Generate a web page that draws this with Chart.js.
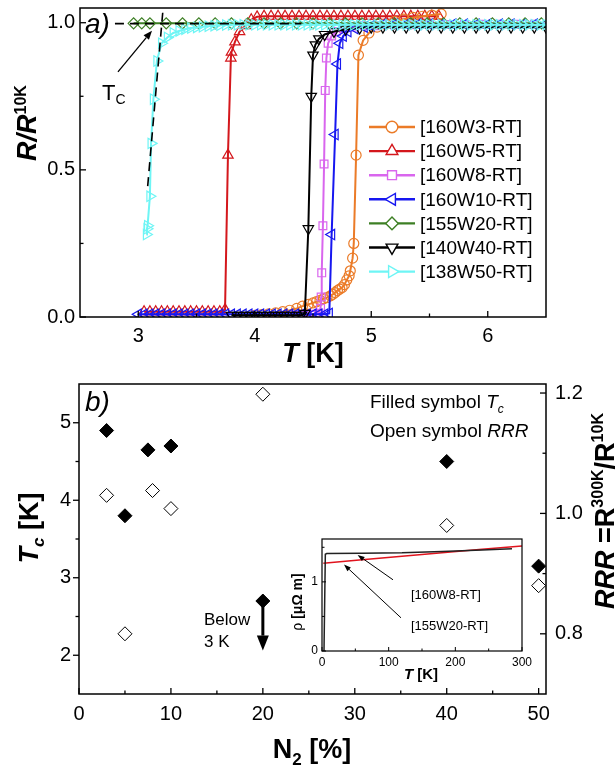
<!DOCTYPE html>
<html><head><meta charset="utf-8">
<script src="https://cdn.jsdelivr.net/npm/chart.js@4.4.1/dist/chart.umd.min.js"></script>
<style>
html,body{margin:0;padding:0;background:#fff;overflow:hidden}
#wrap{position:relative;width:616px;height:770px;background:#fff}
canvas{position:absolute;display:block}
</style></head><body>
<div id="wrap">
<canvas id="cTop" width="616" height="370" style="left:0;top:0"></canvas>
<canvas id="cBot" width="616" height="400" style="left:0;top:370px"></canvas>
<canvas id="cIn" width="250" height="160" style="left:282px;top:527px"></canvas>
</div>
<script>
const FONT = "'Liberation Sans', Arial, Helvetica, sans-serif";

// ---------- Panel a) data : T [K] and R/R10K ----------
const seriesNames = ['[160W3-RT]','[160W5-RT]','[160W8-RT]','[160W10-RT]','[155W20-RT]','[140W40-RT]','[138W50-RT]'];

const w3T = [4.00,4.06,4.12,4.18,4.24,4.30,4.36,4.41,4.46,4.50,
             4.53,4.56,4.59,4.62,4.65,4.67,4.69,4.71,4.73,4.75,
             4.77,4.79,4.81,4.82,4.84,4.85,4.87,4.89,4.93,4.98,
             5.05,5.12,5.20,5.28,5.36,5.44,5.52,5.60];
const w3R = [0.006,0.008,0.011,0.014,0.018,0.023,0.029,0.037,0.043,0.048,
             0.052,0.057,0.062,0.066,0.072,0.077,0.083,0.09,0.095,0.10,
             0.11,0.126,0.14,0.157,0.20,0.25,0.55,0.89,0.94,0.965,
             0.985,0.995,1.005,1.012,1.018,1.022,1.026,1.03];

const w5T = [3.05,3.10,3.15,3.20,3.25,3.30,3.35,3.40,3.45,3.50,
             3.55,3.60,3.65,3.70,3.745,3.77,3.795,3.80,3.83,3.87,
             3.92,3.97,4.02,4.08,4.14,4.20,4.26,4.32,4.38,4.44,
             4.50,4.56,4.62,4.68,4.74,4.80,4.86,4.92,4.98,5.04,
             5.10,5.16,5.22,5.28,5.34,5.40,5.46,5.52,5.58];
const w5R = [0.018,0.018,0.018,0.018,0.018,0.018,0.018,0.018,0.018,0.018,
             0.018,0.018,0.018,0.018,0.025,0.55,0.88,0.90,0.935,0.97,
             0.99,1.01,1.02,1.022,1.022,1.022,1.022,1.022,1.022,1.022,
             1.022,1.022,1.022,1.022,1.022,1.022,1.022,1.022,1.022,1.022,
             1.022,1.022,1.022,1.022,1.022,1.022,1.022,1.022,1.022];

const w8T = [4.35,4.42,4.48,4.52,4.55,4.565,4.57,4.575,4.585,4.595,
             4.605,4.615,4.63,4.66,4.70,4.76,4.84,4.94,5.05,5.2,
             5.35,5.5,5.65,5.8,5.95,6.1,6.25,6.4];
const w8R = [0.006,0.006,0.007,0.009,0.013,0.03,0.068,0.15,0.31,0.52,
             0.77,0.88,0.93,0.955,0.97,0.98,0.985,0.99,0.99,0.992,
             0.993,0.993,0.994,0.994,0.995,0.995,0.995,0.995];

const w10T = [3.00,3.05,3.10,3.15,3.20,3.25,3.30,3.35,3.40,3.45,
              3.50,3.55,3.60,3.65,3.70,3.75,3.80,3.85,3.90,3.95,
              4.00,4.05,4.10,4.15,4.20,4.25,4.30,4.35,4.40,4.45,
              4.50,4.55,4.60,4.64,4.66,4.69,4.71,4.73,4.76,4.80,
              4.86,4.94,5.00,5.10,5.20,5.30,5.40,5.50,5.60,5.70,
              5.80,5.90,6.00,6.10,6.20,6.30,6.40,6.50];
const w10R = [0.009,0.009,0.009,0.009,0.009,0.009,0.009,0.009,0.009,0.009,
              0.009,0.009,0.009,0.009,0.009,0.009,0.009,0.009,0.009,0.009,
              0.009,0.009,0.009,0.009,0.009,0.009,0.009,0.009,0.009,0.009,
              0.009,0.009,0.009,0.012,0.28,0.62,0.86,0.93,0.955,0.97,
              0.98,0.985,0.99,0.995,0.995,0.995,0.995,0.995,0.995,0.995,
              0.995,0.995,0.995,0.995,0.995,0.995,0.995,0.995];

const w20T = [2.96,3.03,3.10,3.24,3.38,3.52,3.66,3.80,3.94,4.08,
              4.22,4.36,4.50,4.64,4.78,4.92,5.06,5.20,5.34,5.48,
              5.62,5.76,5.90,6.04,6.18,6.32,6.46];
const w20R = [0.998,0.998,0.998,0.998,0.998,0.998,0.998,0.998,0.998,0.998,
              0.998,0.998,0.998,0.998,0.998,0.998,0.998,0.998,0.998,0.998,
              0.998,0.998,0.998,0.998,0.998,0.998,0.998];

const w40T = [3.80,3.85,3.90,3.95,4.00,4.05,4.10,4.15,4.20,4.25,
              4.30,4.35,4.40,4.43,4.46,4.485,4.50,4.52,4.55,4.60,
              4.68,4.78,4.90,5.00,5.10,5.20,5.30,5.40,5.50,5.60,
              5.70,5.80,5.90,6.00,6.10,6.20,6.30,6.40,6.50];
const w40R = [0.006,0.006,0.006,0.006,0.006,0.006,0.006,0.006,0.006,0.006,
              0.006,0.006,0.006,0.012,0.30,0.75,0.89,0.925,0.945,0.96,
              0.97,0.978,0.982,0.985,0.985,0.985,0.985,0.985,0.985,0.985,
              0.985,0.985,0.985,0.985,0.985,0.985,0.985,0.985,0.985];

const w50T = [3.07,3.075,3.08,3.10,3.11,3.13,3.16,3.20,3.25,3.30,
              3.35,3.40,3.45,3.50,3.55,3.60,3.65,3.70,3.75,3.80,
              3.85,3.90,3.95,4.00,4.05,4.10,4.15,4.20,4.25,4.30,
              4.35,4.40,4.45,4.50,4.55,4.60,4.65,4.70,4.75,4.80,
              4.85,4.90,4.95,5.00,5.05,5.10,5.15,5.20,5.25,5.30,
              5.35,5.40,5.45,5.50,5.55,5.60,5.65,5.70,5.75,5.80,
              5.85,5.90,5.95,6.00,6.05,6.10,6.15,6.20,6.25,6.30,
              6.35,6.40,6.45,6.50];
const w50R = [0.28,0.30,0.31,0.41,0.59,0.74,0.87,0.93,0.95,0.965,
              0.972,0.978,0.982,0.984,0.986,0.988,0.99,0.991,0.992,0.993,
              0.993,0.993,0.993,0.993,0.993,0.993,0.993,0.993,0.993,0.993,
              0.993,0.993,0.993,0.993,0.993,0.993,0.993,0.993,0.993,0.993,
              0.993,0.993,0.993,0.993,0.993,0.993,0.993,0.993,0.993,0.993,
              0.993,0.993,0.993,0.993,0.993,0.993,0.993,0.993,0.993,0.993,
              0.993,0.993,0.993,0.993,0.993,0.993,0.993,0.993,0.993,0.993,
              0.993,0.993,0.993,0.993];

// Tc guide lines (dashed) of panel a)
const guideHT = [2.80, 4.40];
const guideHR = [0.997, 0.997];
const guideVT = [3.21, 3.08];
const guideVR = [1.034, 0.44];

const xTicksA = [3,4,5,6];
const xMinorA = [3.5,4.5,5.5];
const yTicksA = [0,0.5,1.0];
const yMinorA = [0.25,0.75];

// ---------- Panel b) data ----------
const n2Tc = [3, 5, 7.5, 10, 20, 40, 50];
const tcValues = [4.9, 3.8, 4.65, 4.7, 2.7, 4.5, 3.15];
const n2Rrr = [3, 5, 8, 10, 20, 40, 50];
const rrrValues = [1.03, 0.80, 1.038, 1.008, 1.198, 0.98, 0.88];
const xTicksB = [0,10,20,30,40,50];
const xMinorB = [5,15,25,35,45];
const yTicksB = [2,3,4,5];
const yMinorB = [2.5,3.5,4.5];
const y2TicksB = [0.8,1.0,1.2];
const y2MinorB = [0.9,1.1];

// ---------- Inset data : T [K], rho [uOhm m] ----------
const insetT160W8 = [3, 5, 7, 60, 120, 180, 240, 285];
const insetRho160W8 = [0, 1.40, 1.41, 1.415, 1.42, 1.44, 1.46, 1.48];
const insetT155W20 = [2, 60, 120, 180, 240, 300];
const insetRho155W20 = [1.27, 1.32, 1.37, 1.42, 1.47, 1.52];
const xTicksIn = [0,100,200,300];
const xMinorIn = [50,150,250];
const yTicksIn = [0,1];
const yMinorIn = [0.5,1.5];

// ---------- helpers ----------
Chart.defaults.font.family = FONT;
Chart.defaults.color = '#000';

function pts(T, R){ return T.map((t,i)=>({x:t, y:R[i]})); }
const setTicks = arr => s => { s.ticks = arr.map(v=>({value:v})); };
const fixW = w => s => { s.width = w; s.paddingTop=0; s.paddingBottom=0; s.paddingLeft=0; s.paddingRight=0; };
const fixH = h => s => { s.height = h; s.paddingTop=0; s.paddingBottom=0; s.paddingLeft=0; s.paddingRight=0; };

function drawRich(ctx, runs, x, y, opts){
  opts = opts || {};
  ctx.save();
  ctx.translate(x, y);
  if (opts.rot) ctx.rotate(opts.rot);
  let w = 0;
  runs.forEach(r => { ctx.font = r.f; w += ctx.measureText(r.t).width; });
  let cx = opts.align === 'left' ? 0 : (opts.align === 'right' ? -w : -w/2);
  ctx.textBaseline = 'alphabetic'; ctx.textAlign = 'left';
  ctx.fillStyle = opts.color || '#000';
  runs.forEach(r => { ctx.font = r.f; ctx.fillText(r.t, cx, r.dy || 0); cx += ctx.measureText(r.t).width; });
  ctx.restore();
}
function arrow(ctx, x1, y1, x2, y2, hl, hw, lw){
  const ang = Math.atan2(y2-y1, x2-x1);
  const bx = x2 - hl*Math.cos(ang), by = y2 - hl*Math.sin(ang);
  ctx.save(); ctx.strokeStyle = '#000'; ctx.fillStyle = '#000'; ctx.lineWidth = lw;
  ctx.beginPath(); ctx.moveTo(x1, y1); ctx.lineTo(bx, by); ctx.stroke();
  ctx.beginPath(); ctx.moveTo(x2, y2);
  ctx.lineTo(bx + hw/2*Math.sin(ang), by - hw/2*Math.cos(ang));
  ctx.lineTo(bx - hw/2*Math.sin(ang), by + hw/2*Math.cos(ang));
  ctx.closePath(); ctx.fill(); ctx.restore();
}
function drawFrame(ctx, a, lw){
  ctx.save(); ctx.strokeStyle = '#000'; ctx.lineWidth = lw;
  ctx.strokeRect(a.left, a.top, a.right - a.left, a.bottom - a.top);
  ctx.restore();
}
function drawTicks(chart, specs, lw){
  const ctx = chart.ctx, a = chart.chartArea;
  ctx.save(); ctx.strokeStyle = '#000'; ctx.lineWidth = lw || 1.3;
  specs.forEach(sp => {
    const s = chart.scales[sp.scale];
    sp.values.forEach(v => {
      const p = s.getPixelForValue(v);
      ctx.beginPath();
      if (sp.side === 'bottom') { ctx.moveTo(p, a.bottom); ctx.lineTo(p, a.bottom + sp.len); }
      else if (sp.side === 'left') { ctx.moveTo(a.left, p); ctx.lineTo(a.left - sp.len, p); }
      else { ctx.moveTo(a.right, p); ctx.lineTo(a.right + sp.len, p); }
      ctx.stroke();
    });
  });
  ctx.restore();
}

// ---------- Panel a) ----------
const colorsA = ['#eb7b28','#d4171c','#d966ee','#1717f0','#3d7f24','#000000','#6ef5f5'];
const stylesA = [
  {ps:'circle', rot:0, r:5},
  {ps:'triangle', rot:0, r:6},
  {ps:'rect', rot:0, r:5.5},
  {ps:'triangle', rot:270, r:6},
  {ps:'rectRot', rot:0, r:5.5},
  {ps:'triangle', rot:180, r:6},
  {ps:'triangle', rot:90, r:6}
];
const orderA = [5, 6, 4, 3, 2, 1, 0];
const seriesA = [[w3T,w3R],[w5T,w5R],[w8T,w8R],[w10T,w10R],[w20T,w20R],[w40T,w40R],[w50T,w50R]];

const datasetsA = seriesA.map((s, i) => ({
  label: seriesNames[i],
  data: pts(s[0], s[1]),
  borderColor: colorsA[i],
  backgroundColor: 'rgba(0,0,0,0)',
  pointBorderColor: colorsA[i],
  pointBackgroundColor: 'rgba(0,0,0,0)',
  pointStyle: stylesA[i].ps,
  rotation: stylesA[i].rot,
  pointRadius: stylesA[i].r,
  pointBorderWidth: 1.2,
  borderWidth: 2,
  tension: 0,
  order: orderA[i]
}));
datasetsA.push({label:'guideH', data: pts(guideHT, guideHR), borderColor:'#000', borderWidth:1.6,
  borderDash:[9,6], pointRadius:0, order:-1, tension:0});
datasetsA.push({label:'guideV', data: pts(guideVT, guideVR), borderColor:'#000', borderWidth:1.6,
  borderDash:[9,6], pointRadius:0, order:-1, tension:0});

const panelA = {
  id: 'panelA',
  afterDraw(chart){
    const ctx = chart.ctx, sx = chart.scales.x, sy = chart.scales.y;
    drawFrame(ctx, chart.chartArea, 1.5);
    drawTicks(chart, [
      {scale:'x', side:'bottom', values:xTicksA, len:-6},
      {scale:'x', side:'bottom', values:xMinorA, len:-3.5},
      {scale:'y', side:'left', values:yTicksA, len:-6},
      {scale:'y', side:'left', values:yMinorA, len:-3.5}
    ]);
    // legend
    seriesNames.forEach((nm, i) => {
      const y = 127 + i*24.1;
      ctx.save();
      ctx.strokeStyle = colorsA[i]; ctx.lineWidth = 2.4;
      ctx.beginPath(); ctx.moveTo(369, y); ctx.lineTo(415, y); ctx.stroke();
      ctx.fillStyle = '#fff'; ctx.lineWidth = 1.4;
      Chart.helpers.drawPoint(ctx, {pointStyle: stylesA[i].ps, rotation: stylesA[i].rot,
        radius: stylesA[i].r + 0.8, borderWidth: 1.4}, 392, y);
      ctx.fillStyle = '#000'; ctx.font = '19px ' + FONT; ctx.textBaseline = 'middle'; ctx.textAlign = 'left';
      ctx.fillText(nm, 420, y + 1);
      ctx.restore();
    });
    // annotations
    drawRich(ctx, [{t:'a)', f:'italic 28px ' + FONT}], 85, 33, {align:'left'});
    drawRich(ctx, [{t:'T', f:'22px ' + FONT}, {t:'C', f:'14px ' + FONT, dy:4}], 102, 100, {align:'left'});
    arrow(ctx, sx.getPixelForValue(2.826), sy.getPixelForValue(0.833),
               sx.getPixelForValue(3.118), sy.getPixelForValue(0.973), 9, 7, 1.3);
    // axis titles
    drawRich(ctx, [{t:'T', f:'italic bold 27px ' + FONT}, {t:' [K]', f:'bold 27px ' + FONT}], 313, 362, {align:'center'});
    drawRich(ctx, [{t:'R/R', f:'italic bold 27px ' + FONT}, {t:'10K', f:'bold 16px ' + FONT, dy:-10}],
             36, 123, {align:'center', rot:-Math.PI/2});
  }
};

new Chart(document.getElementById('cTop'), {
  type: 'line',
  data: {datasets: datasetsA},
  options: {
    responsive: false, animation: false, events: [],
    layout: {padding: {left:0, right:70, top:8, bottom:0}},
    plugins: {legend: {display:false}, tooltip: {enabled:false}},
    scales: {
      x: {type:'linear', min:2.5, max:6.5,
          afterBuildTicks: setTicks(xTicksA), afterFit: fixH(53),
          grid: {display:false, drawTicks:false}, border: {display:false},
          ticks: {font:{size:20}, color:'#000', padding:7, maxRotation:0, autoSkip:false, callback: v => String(v)}},
      y: {type:'linear', min:0, max:1.05,
          afterBuildTicks: setTicks(yTicksA), afterFit: fixW(80),
          grid: {display:false, drawTicks:false}, border: {display:false},
          ticks: {font:{size:20}, color:'#000', padding:5, autoSkip:false, callback: v => v.toFixed(1)}}
    }
  },
  plugins: [panelA]
});

// ---------- Panel b) ----------
const panelB = {
  id: 'panelB',
  afterDraw(chart){
    const ctx = chart.ctx, sx = chart.scales.x, sy = chart.scales.y;
    drawFrame(ctx, chart.chartArea, 1.5);
    drawTicks(chart, [
      {scale:'x', side:'bottom', values:xTicksB, len:-6},
      {scale:'x', side:'bottom', values:xMinorB, len:-3.5},
      {scale:'y', side:'left', values:yTicksB, len:6},
      {scale:'y', side:'left', values:yMinorB, len:3.5},
      {scale:'y2', side:'right', values:y2TicksB, len:-6},
      {scale:'y2', side:'right', values:y2MinorB, len:-3.5}
    ]);
    drawRich(ctx, [{t:'b)', f:'italic 28px ' + FONT}], 85, 41, {align:'left'});
    drawRich(ctx, [{t:'Filled symbol ', f:'19px ' + FONT}, {t:'T', f:'italic 19px ' + FONT},
                   {t:'c', f:'italic 12px ' + FONT, dy:5}], 370, 38, {align:'left'});
    drawRich(ctx, [{t:'Open symbol ', f:'19px ' + FONT}, {t:'RRR', f:'italic 19px ' + FONT}], 370, 67, {align:'left'});
    drawRich(ctx, [{t:'Below', f:'17px ' + FONT}], 204, 255, {align:'left'});
    drawRich(ctx, [{t:'3 K', f:'17px ' + FONT}], 204, 277, {align:'left'});
    arrow(ctx, sx.getPixelForValue(20), sy.getPixelForValue(2.66),
               sx.getPixelForValue(20), sy.getPixelForValue(2.06), 15, 12, 3);
    // axis titles
    drawRich(ctx, [{t:'N', f:'bold 27px ' + FONT}, {t:'2', f:'bold 17px ' + FONT, dy:7},
                   {t:' [%]', f:'bold 27px ' + FONT}], 312, 388, {align:'center'});
    drawRich(ctx, [{t:'T', f:'italic bold 27px ' + FONT}, {t:'c', f:'italic bold 17px ' + FONT, dy:6},
                   {t:' [K]', f:'bold 27px ' + FONT}], 38, 158, {align:'center', rot:-Math.PI/2});
    drawRich(ctx, [{t:'RRR', f:'italic bold 27px ' + FONT}, {t:' =R', f:'bold 27px ' + FONT},
                   {t:'300K', f:'bold 16px ' + FONT, dy:-11}, {t:'/R', f:'bold 27px ' + FONT},
                   {t:'10K', f:'bold 16px ' + FONT, dy:-11}], 614, 141, {align:'center', rot:-Math.PI/2});
  }
};

new Chart(document.getElementById('cBot'), {
  type: 'scatter',
  data: {datasets: [
    {label:'Tc', data: pts(n2Tc, tcValues), yAxisID:'y', pointStyle:'rectRot', pointRadius:7,
     pointBackgroundColor:'#000', pointBorderColor:'#000', pointBorderWidth:1, showLine:false},
    {label:'RRR', data: pts(n2Rrr, rrrValues), yAxisID:'y2', pointStyle:'rectRot', pointRadius:7,
     pointBackgroundColor:'#fff', pointBorderColor:'#000', pointBorderWidth:1, showLine:false}
  ]},
  options: {
    responsive: false, animation: false, events: [],
    layout: {padding: {left:0, right:0, top:14, bottom:0}},
    plugins: {legend: {display:false}, tooltip: {enabled:false}},
    scales: {
      x: {type:'linear', min:0, max:50.8,
          afterBuildTicks: setTicks(xTicksB), afterFit: fixH(76),
          grid: {display:false, drawTicks:false}, border: {display:false},
          ticks: {font:{size:20}, color:'#000', padding:8, maxRotation:0, autoSkip:false, callback: v => String(v)}},
      y: {type:'linear', position:'left', min:1.5, max:5.5,
          afterBuildTicks: setTicks(yTicksB), afterFit: fixW(79),
          grid: {display:false, drawTicks:false}, border: {display:false},
          ticks: {font:{size:20}, color:'#000', padding:8, autoSkip:false, callback: v => String(v)}},
      y2: {type:'linear', position:'right', min:0.7, max:1.215,
          afterBuildTicks: setTicks(y2TicksB), afterFit: fixW(70),
          grid: {display:false, drawTicks:false}, border: {display:false},
          ticks: {font:{size:20}, color:'#000', padding:9, autoSkip:false, callback: v => v.toFixed(1)}}
    }
  },
  plugins: [panelB]
});

// ---------- Inset ----------
const panelIn = {
  id: 'panelIn',
  beforeDraw(chart){
    const a = chart.chartArea, ctx = chart.ctx;
    ctx.save(); ctx.fillStyle = '#fff'; ctx.fillRect(a.left, a.top, a.right - a.left, a.bottom - a.top); ctx.restore();
  },
  afterDraw(chart){
    const ctx = chart.ctx, sx = chart.scales.x, sy = chart.scales.y;
    drawFrame(ctx, chart.chartArea, 1.2);
    drawTicks(chart, [
      {scale:'x', side:'bottom', values:xTicksIn, len:-4},
      {scale:'x', side:'bottom', values:xMinorIn, len:-2.5},
      {scale:'y', side:'left', values:yTicksIn, len:-4},
      {scale:'y', side:'left', values:yMinorIn, len:-2.5}
    ], 1);
    ctx.save();
    ctx.font = '13px ' + FONT; ctx.fillStyle = '#000'; ctx.textBaseline = 'middle'; ctx.textAlign = 'left';
    ctx.fillText('[160W8-RT]', sx.getPixelForValue(133.5), sy.getPixelForValue(0.81));
    ctx.fillText('[155W20-RT]', sx.getPixelForValue(133.5), sy.getPixelForValue(0.35));
    ctx.restore();
    arrow(ctx, sx.getPixelForValue(106.5), sy.getPixelForValue(1.03),
               sx.getPixelForValue(53.4), sy.getPixelForValue(1.39), 7, 5, 1);
    arrow(ctx, sx.getPixelForValue(118.5), sy.getPixelForValue(0.48),
               sx.getPixelForValue(33), sy.getPixelForValue(1.25), 7, 5, 1);
    drawRich(ctx, [{t:'T', f:'italic bold 15px ' + FONT}, {t:' [K]', f:'bold 15px ' + FONT}], 139, 152, {align:'center'});
    drawRich(ctx, [{t:'ρ ', f:'14px ' + FONT}, {t:'[μΩ m]', f:'bold 14px ' + FONT}], 20, 75, {align:'center', rot:-Math.PI/2});
  }
};

new Chart(document.getElementById('cIn'), {
  type: 'line',
  data: {datasets: [
    {label:'[160W8-RT]', data: pts(insetT160W8, insetRho160W8), borderColor:'#222', borderWidth:1.5, pointRadius:0, tension:0},
    {label:'[155W20-RT]', data: pts(insetT155W20, insetRho155W20), borderColor:'#e0141e', borderWidth:1.5, pointRadius:0, tension:0}
  ]},
  options: {
    responsive: false, animation: false, events: [],
    layout: {padding: {left:0, right:10, top:12, bottom:0}},
    plugins: {legend: {display:false}, tooltip: {enabled:false}},
    scales: {
      x: {type:'linear', min:0, max:300,
          afterBuildTicks: setTicks(xTicksIn), afterFit: fixH(36),
          grid: {display:false, drawTicks:false}, border: {display:false},
          ticks: {font:{size:12}, color:'#000', padding:4, maxRotation:0, autoSkip:false, callback: v => String(v)}},
      y: {type:'linear', min:0, max:1.62,
          afterBuildTicks: setTicks(yTicksIn), afterFit: fixW(40),
          grid: {display:false, drawTicks:false}, border: {display:false},
          ticks: {font:{size:12}, color:'#000', padding:4, autoSkip:false, callback: v => String(v)}}
    }
  },
  plugins: [panelIn]
});
</script>
</body></html>
